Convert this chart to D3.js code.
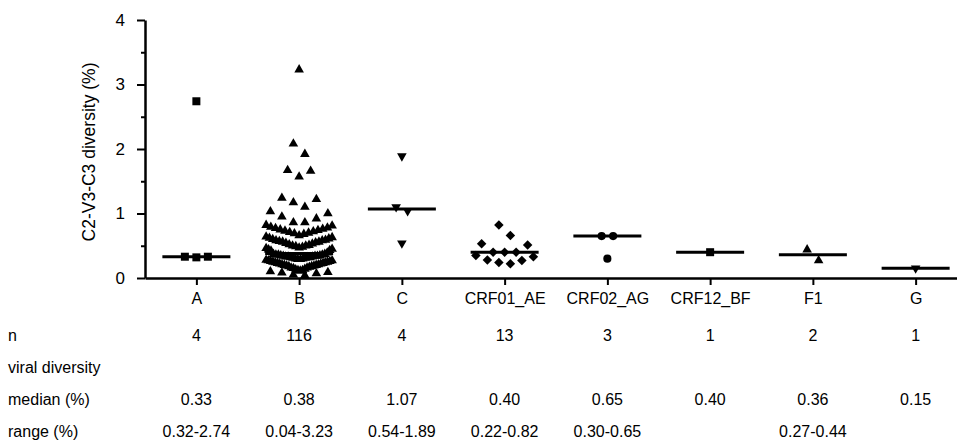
<!DOCTYPE html>
<html>
<head>
<meta charset="utf-8">
<script src="https://cdn.jsdelivr.net/npm/d3@7"></script>
<style>
  body { margin: 0; background: #fff; }
  text { font-family: "Liberation Sans", Arial, sans-serif; fill: #000; }
</style>
</head>
<body>
<svg id="grafica"></svg>
<script>
// datos
const subtipos = ["A", "B", "C", "CRF01_AE", "CRF02_AG", "CRF12_BF", "F1", "G"];
const simbolos = ["square", "triangle", "triangleDown", "diamond", "circle", "square", "triangle", "triangleDown"];

const valoresA = [0.33, 0.32, 0.33, 2.74];
const valoresB = [
  3.23, 2.08, 1.92, 1.67, 1.66, 1.57, 1.24, 1.22, 1.17, 1.10, 1.03, 1.00, 0.95, 0.92, 0.86, 0.86,
  0.82, 0.81, 0.79, 0.78, 0.77, 0.76, 0.75, 0.74, 0.73, 0.72, 0.71, 0.70, 0.69, 0.68, 0.66,
  0.64, 0.63, 0.62, 0.61, 0.60, 0.59, 0.58, 0.58, 0.57, 0.56, 0.56, 0.55, 0.54, 0.53, 0.52, 0.51, 0.50, 0.50, 0.49, 0.48, 0.47,
  0.46, 0.45, 0.44, 0.43, 0.42, 0.39,
  0.37, 0.37, 0.36, 0.36, 0.36, 0.35, 0.35, 0.34, 0.34, 0.34, 0.33, 0.33, 0.33, 0.32, 0.32, 0.32, 0.31, 0.31, 0.30, 0.30, 0.29, 0.29,
  0.28, 0.27, 0.27, 0.26, 0.26, 0.25, 0.25, 0.24, 0.24, 0.23, 0.23, 0.22, 0.22, 0.21, 0.21,
  0.20, 0.20, 0.19, 0.19, 0.18, 0.18, 0.17, 0.16, 0.16, 0.15, 0.14, 0.13, 0.12, 0.12, 0.11,
  0.10, 0.09, 0.08, 0.07, 0.05, 0.04
];
const valoresC = [1.89, 1.10, 1.04, 0.54];
const valoresAE = [0.82, 0.66, 0.53, 0.51, 0.40, 0.40, 0.40, 0.35, 0.33, 0.28, 0.27, 0.24, 0.22];
const valoresAG = [0.65, 0.65, 0.30];
const valoresBF = [0.40];
const valoresF1 = [0.44, 0.27];
const valoresG = [0.15];
const valores = [valoresA, valoresB, valoresC, valoresAE, valoresAG, valoresBF, valoresF1, valoresG];

const medianas = [0.33, 0.38, 1.07, 0.40, 0.65, 0.40, 0.36, 0.15];
const etiquetasN = ["4", "116", "4", "13", "3", "1", "2", "1"];
const etiquetasMediana = ["0.33", "0.38", "1.07", "0.40", "0.65", "0.40", "0.36", "0.15"];
const etiquetasRango = ["0.32-2.74", "0.04-3.23", "0.54-1.89", "0.22-0.82", "0.30-0.65", "", "0.27-0.44", ""];
const ticksY = [0, 1, 2, 3, 4];
const ticksMenores = [0.5, 1.5, 2.5, 3.5];

const width = 957;
const height = 441;

const svg = d3.select("svg#grafica")
  .attr("width", width)
  .attr("height", height);

const x = d3.scalePoint().domain(subtipos).range([145, 967]).padding(0.5);
const y = d3.scaleLinear().domain([0, 4]).range([278, 20]);

// ejes
svg.append("g")
  .attr("transform", "translate(145,0)")
  .call(d3.axisLeft(y).tickValues(ticksY).tickSize(8).tickSizeOuter(0).tickPadding(12).tickFormat(d3.format("d")))
  .selectAll(".tick text").attr("font-size", 17);
svg.append("g")
  .attr("transform", "translate(145,0)")
  .call(d3.axisLeft(y).tickValues(ticksMenores).tickSize(4).tickSizeOuter(0).tickFormat(""))
  .select(".domain").remove();

svg.append("g")
  .attr("transform", "translate(0,278)")
  .call(d3.axisBottom(x).tickSize(7).tickSizeOuter(0).tickPadding(8))
  .selectAll(".tick text").attr("font-size", 16);

svg.selectAll(".domain").attr("stroke", "#000").attr("stroke-width", 2.5);
svg.selectAll(".tick line").attr("stroke", "#000").attr("stroke-width", 2);
svg.selectAll(".tick text").attr("font-family", "Liberation Sans, Arial, sans-serif").attr("fill", "#000");

svg.append("text")
  .attr("transform", "translate(95,152) rotate(-90)")
  .attr("text-anchor", "middle")
  .attr("font-size", 17.5)
  .text("C2-V3-C3 diversity (%)");

// filas de puntos: de mayor a menor, los valores altos van hacia fuera
const ventana = 11.3;
const pasoMax = 11.5;
const anchoMax = 33;
function enjambre(lista, cx) {
  const ordenados = lista.slice().sort((a, b) => b - a);
  const salida = [];
  let i = 0;
  while (i < ordenados.length) {
    const inicio = y(ordenados[i]);
    const fila = [];
    while (i < ordenados.length && y(ordenados[i]) - inicio <= ventana) {
      fila.push(ordenados[i]);
      i++;
    }
    const k = fila.length;
    const paso = k > 1 ? Math.min(pasoMax, 2 * anchoMax / (k - 1)) : 0;
    const pos = d3.range(k).map(j => (j - (k - 1) / 2) * paso);
    pos.sort((a, b) => Math.abs(b) - Math.abs(a) || a - b);
    fila.forEach((v, j) => salida.push({ v: v, x: cx + pos[j] }));
  }
  return salida;
}

const formas = {
  square: { tipo: d3.symbolSquare, size: 64, rot: 0 },
  triangle: { tipo: d3.symbolTriangle, size: 40, rot: 0 },
  triangleDown: { tipo: d3.symbolTriangle, size: 40, rot: 180 },
  diamond: { tipo: d3.symbolSquare, size: 45, rot: 45 },
  circle: { tipo: d3.symbolCircle, size: 52, rot: 0 }
};

const puntos = svg.append("g");
subtipos.forEach((s, i) => {
  const f = formas[simbolos[i]];
  const pts = enjambre(valores[i], x(s));
  puntos.selectAll(null)
    .data(pts)
    .enter().append("path")
    .attr("d", d3.symbol().type(f.tipo).size(f.size))
    .attr("transform", d => `translate(${d.x},${y(d.v)}) rotate(${f.rot})`)
    .attr("fill", "#000");
});

// medianas
svg.append("g").selectAll("line")
  .data(subtipos)
  .enter().append("line")
  .attr("x1", d => x(d) - 34)
  .attr("x2", d => x(d) + 34)
  .attr("y1", (d, i) => y(medianas[i]))
  .attr("y2", (d, i) => y(medianas[i]))
  .attr("stroke", "#000")
  .attr("stroke-width", 3);

// tabla inferior
const filas = [
  { nombre: "n", base: 341, textos: etiquetasN },
  { nombre: "viral diversity", base: 373, textos: [] },
  { nombre: "median (%)", base: 405, textos: etiquetasMediana },
  { nombre: "range (%)", base: 437, textos: etiquetasRango }
];
filas.forEach(f => {
  svg.append("text")
    .attr("x", 8)
    .attr("y", f.base)
    .attr("font-size", 16)
    .text(f.nombre);
  svg.append("g").selectAll("text")
    .data(f.textos)
    .enter().append("text")
    .attr("x", (d, i) => x(subtipos[i]))
    .attr("y", f.base)
    .attr("text-anchor", "middle")
    .attr("font-size", 16)
    .text(d => d);
});
</script>
</body>
</html>
